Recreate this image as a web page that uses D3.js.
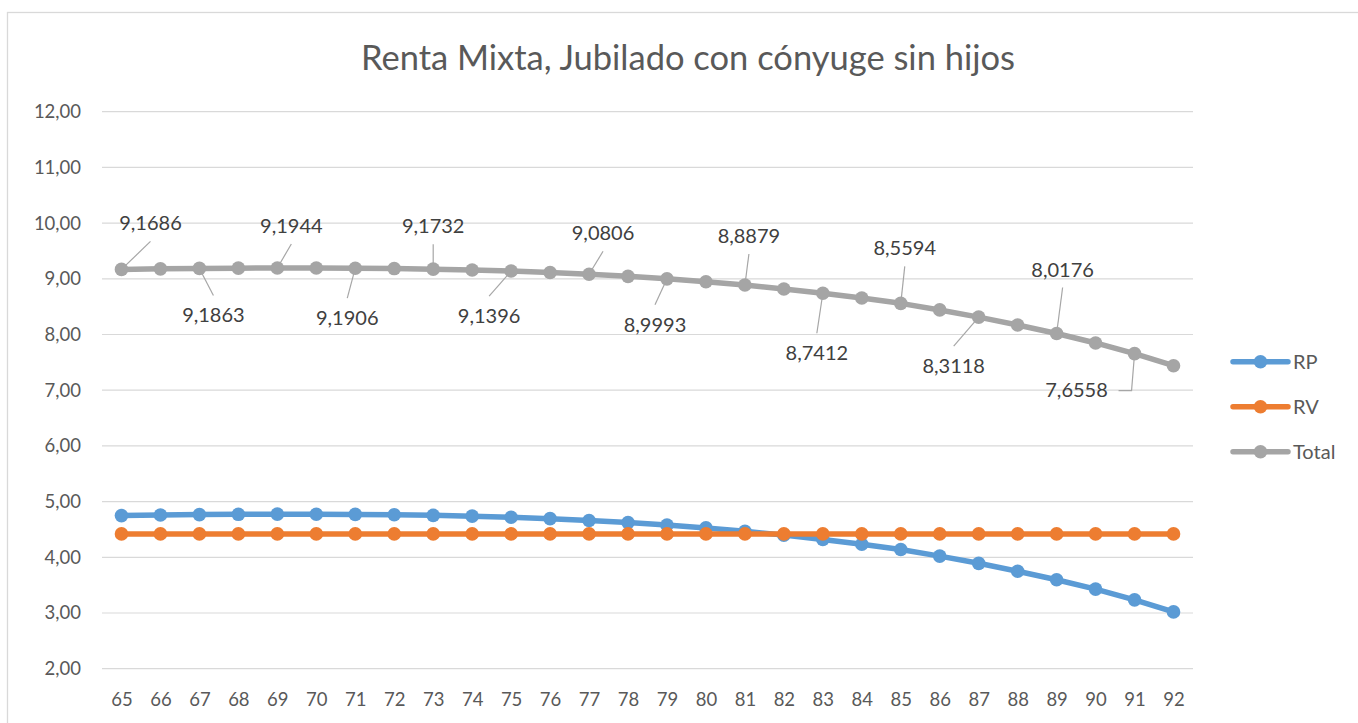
<!DOCTYPE html>
<html>
<head>
<meta charset="utf-8">
<script src="https://cdn.jsdelivr.net/npm/d3@7"></script>
<style>
  html, body { margin: 0; padding: 0; background: #fff; }
  svg { display: block; font-family: Lato, 'Noto Sans', sans-serif; }
</style>
</head>
<body>
<svg id="chart" width="1358" height="723"></svg>
<script>
'use strict';

const ages = [65, 66, 67, 68, 69, 70, 71, 72, 73, 74, 75, 76, 77, 78,
  79, 80, 81, 82, 83, 84, 85, 86, 87, 88, 89, 90, 91, 92];

const rp = [4.7486, 4.7586, 4.7663, 4.7716, 4.7744, 4.7737, 4.7706, 4.7636,
  4.7532, 4.7384, 4.7196, 4.6943, 4.6606, 4.6241, 4.5793, 4.5280, 4.4679,
  4.3980, 4.3212, 4.2345, 4.1394, 4.0214, 3.8918, 3.7500, 3.5976, 3.4280,
  3.2358, 3.0200];

const rv = [4.42, 4.42, 4.42, 4.42, 4.42, 4.42, 4.42, 4.42, 4.42, 4.42,
  4.42, 4.42, 4.42, 4.42, 4.42, 4.42, 4.42, 4.42, 4.42, 4.42, 4.42, 4.42,
  4.42, 4.42, 4.42, 4.42, 4.42, 4.42];

const total = [9.1686, 9.1786, 9.1863, 9.1916, 9.1944, 9.1937, 9.1906, 9.1836,
  9.1732, 9.1584, 9.1396, 9.1143, 9.0806, 9.0441, 8.9993, 8.9480, 8.8879,
  8.8180, 8.7412, 8.6545, 8.5594, 8.4414, 8.3118, 8.1700, 8.0176, 7.8480,
  7.6558, 7.4400];

const yTicks = [2, 3, 4, 5, 6, 7, 8, 9, 10, 11, 12];
const seriesNames = ['RP', 'RV', 'Total'];

// which Total points carry a data label (every other age)
const labelAges = [65, 67, 69, 71, 73, 75, 77, 79, 81, 83, 85, 87, 89, 91];
// label offsets from their point (centre x, baseline y)
const labelOffsets = [[29, -39], [14, 54], [14, -35], [-8, 57], [0, -36],
  [-22, 52], [14, -34], [-12, 53], [4, -42], [-6, 67], [4, -48], [-25, 56],
  [6, -57], [-58, 43]];

const colors = ['#5B9BD5', '#ED7D31', '#A5A5A5'];
const series = [rp, rv, total];

const fmt = v => v.toFixed(4).replace('.', ',');
const fmtAxis = v => v.toFixed(2).replace('.', ',');

const svg = d3.select('#chart');

svg.append('rect')
  .attr('x', 7.5).attr('y', 12.5)
  .attr('width', 1400).attr('height', 800)
  .attr('fill', '#fff')
  .attr('stroke', '#D9D9D9')
  .attr('stroke-width', 1.3);

const x = d3.scalePoint()
  .domain(ages)
  .range([102, 1193])
  .padding(0.5);

const y = d3.scaleLinear()
  .domain([2, 12])
  .range([668.7, 111.7]);

// gridlines
svg.append('g')
  .selectAll('line')
  .data(yTicks)
  .enter().append('line')
  .attr('x1', 102).attr('x2', 1193)
  .attr('y1', d => y(d)).attr('y2', d => y(d))
  .attr('stroke', '#D9D9D9')
  .attr('stroke-width', 1.2);

// y axis
svg.append('g')
  .attr('transform', 'translate(102,0)')
  .call(d3.axisLeft(y).tickValues(yTicks).tickSize(0).tickPadding(21).tickFormat(fmtAxis))
  .call(g => g.select('.domain').remove())
  .selectAll('text')
  .attr('fill', '#595959')
  .style('font-size', '18.5px')
  .style('font-family', 'Lato, sans-serif');

// x axis
svg.append('g')
  .attr('transform', 'translate(0,669)')
  .call(d3.axisBottom(x).tickSize(0).tickPadding(24))
  .call(g => g.select('.domain').remove())
  .selectAll('text')
  .attr('fill', '#595959')
  .style('font-size', '18.5px')
  .style('font-family', 'Lato, sans-serif');

// title
svg.append('text')
  .attr('x', 688).attr('y', 70)
  .attr('text-anchor', 'middle')
  .attr('fill', '#595959')
  .style('font-size', '34.5px')
  .text('Renta Mixta, Jubilado con cónyuge sin hijos');

// data label leaders for Total
const labels = labelAges.map((a, i) => {
  const idx = ages.indexOf(a);
  const px = x(a), py = y(total[idx]);
  const lx = px + labelOffsets[i][0], ly = py + labelOffsets[i][1];
  return { px, py, lx, ly, above: labelOffsets[i][1] < 0, text: fmt(total[idx]) };
});

const leaders = svg.append('g')
  .attr('fill', 'none')
  .attr('stroke', '#A6A6A6')
  .attr('stroke-width', 1.2);

labels.forEach((d, i) => {
  if (i === labels.length - 1) {
    // elbow leader to the left-side label
    const my = d.ly - 6;
    leaders.append('path')
      .attr('d', `M${d.px},${d.py} L${d.px - 3},${my} L${d.lx + 42},${my}`);
  } else {
    const ey = d.above ? d.ly + 11 : d.ly - 27;
    leaders.append('line')
      .attr('x1', d.px).attr('y1', d.py)
      .attr('x2', d.lx).attr('y2', ey);
  }
});

// series
const line = d3.line()
  .x((d, i) => x(ages[i]))
  .y(d => y(d));

series.forEach((s, k) => {
  const g = svg.append('g');
  g.append('path')
    .datum(s)
    .attr('d', line)
    .attr('fill', 'none')
    .attr('stroke', colors[k])
    .attr('stroke-width', 5.5)
    .attr('stroke-linejoin', 'round');
  g.selectAll('circle')
    .data(s)
    .enter().append('circle')
    .attr('cx', (d, i) => x(ages[i]))
    .attr('cy', d => y(d))
    .attr('r', 6.8)
    .attr('fill', colors[k]);
});

// data labels
svg.append('g')
  .selectAll('text')
  .data(labels)
  .enter().append('text')
  .attr('x', d => d.lx)
  .attr('y', d => d.ly)
  .attr('text-anchor', 'middle')
  .attr('fill', '#404040')
  .style('font-size', '20px')
  .text(d => d.text);

// legend
const legend = svg.append('g')
  .selectAll('g')
  .data(seriesNames)
  .enter().append('g')
  .attr('transform', (d, i) => `translate(1233,${361.7 + i * 45})`);

legend.append('line')
  .attr('x1', 0).attr('x2', 55)
  .attr('stroke', (d, i) => colors[i])
  .attr('stroke-width', 5.5)
  .attr('stroke-linecap', 'round');

legend.append('circle')
  .attr('cx', 27.5)
  .attr('r', 6.8)
  .attr('fill', (d, i) => colors[i]);

legend.append('text')
  .attr('x', 60)
  .attr('dy', '0.35em')
  .attr('fill', '#595959')
  .style('font-size', '20px')
  .text(d => d);
</script>
</body>
</html>
